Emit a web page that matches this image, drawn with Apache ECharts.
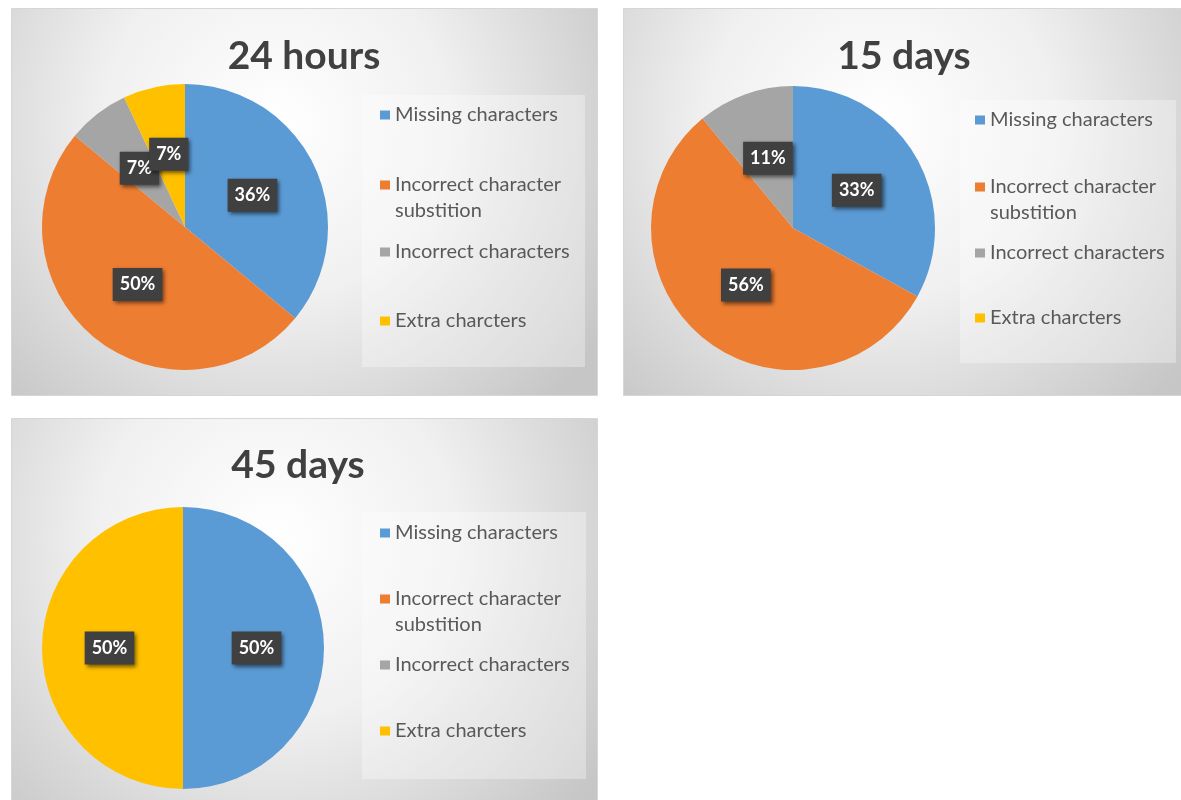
<!DOCTYPE html>
<html>
<head>
<meta charset="utf-8">
<style>
  html, body { margin: 0; padding: 0; background: #ffffff; }
  #chart { width: 1181px; height: 800px; }
</style>
<script src="https://cdn.jsdelivr.net/npm/echarts@6/dist/echarts.min.js"></script>
</head>
<body>
<div id="chart"></div>
<script>
// ---- data ----
const categories = ['Missing characters', 'Incorrect character substition', 'Incorrect characters', 'Extra charcters'];
const chartTitles = ['24 hours', '15 days', '45 days'];
const values24h = [36, 50, 7, 7];
const values15d = [33, 56, 11, 0];
const values45d = [50, 0, 0, 50];
const seriesValues = [values24h, values15d, values45d];
const colors = ['#5B9BD5', '#ED7D31', '#A5A5A5', '#FFC000'];

// ---- layout (positions / sizes) ----
const panels = [
  { x: 11, y: 8, w: 586, h: 387, cx: 185, cy: 227, r: 143, tx: 304, ty: 37,
    box: [362, 95, 223, 272], iconX: 380, rows: [115, 185, 252, 321] },
  { x: 623, y: 8, w: 570, h: 387, cx: 793, cy: 228, r: 142, tx: 904, ty: 37,
    box: [960, 100, 216, 263], iconX: 975, rows: [120, 187, 253, 318] },
  { x: 11, y: 418, w: 586, h: 400, cx: 183, cy: 648, r: 141, tx: 298, ty: 446,
    box: [362, 512, 224, 267], iconX: 380, rows: [533, 599, 665, 731] }
];

const FONT = 'Lato, "Open Sans", sans-serif';
const LH = 26;

const graphic = [];
const title = [];
const legend = [];
const series = [];

panels.forEach((p, i) => {
  graphic.push({
    type: 'rect', z: 0,
    shape: { x: p.x + 0.5, y: p.y + 0.5, width: p.w, height: p.h },
    style: {
      fill: new echarts.graphic.RadialGradient(0.45, 0.3, 1.0, [
        { offset: 0, color: '#ffffff' },
        { offset: 0.45, color: '#f0f0f0' },
        { offset: 1, color: '#c6c6c6' }
      ]),
      stroke: '#d6d6d6', lineWidth: 1
    }
  });
  graphic.push({
    type: 'rect', z: 1,
    shape: { x: p.box[0], y: p.box[1], width: p.box[2], height: p.box[3] },
    style: { fill: 'rgba(255,255,255,0.32)' }
  });
  title.push({
    text: chartTitles[i],
    left: p.tx, top: p.ty, textAlign: 'center', padding: 0,
    textStyle: { fontFamily: FONT, fontSize: 39, fontWeight: 'bold', color: '#404040', lineHeight: 39 }
  });
  categories.forEach((name, k) => {
    const twoLine = name === 'Incorrect character substition';
    legend.push({
      data: [name],
      left: p.iconX,
      top: p.rows[k] - (twoLine ? LH * 1.5 : LH / 2),
      padding: 0,
      orient: 'vertical',
      icon: 'rect',
      itemWidth: 10, itemHeight: 9,
      selectedMode: false,
      formatter: n => n === 'Incorrect character substition' ? '\nIncorrect character\nsubstition' : n,
      textStyle: {
        fontFamily: FONT, fontSize: 20, color: '#595959', lineHeight: LH
      }
    });
  });
  series.push({
    type: 'pie',
    name: chartTitles[i],
    center: [p.cx, p.cy],
    radius: p.r,
    startAngle: 90,
    clockwise: true,
    silent: true,
    animation: false,
    avoidLabelOverlap: false,
    labelLayout: { hideOverlap: false },
    z: 3,
    label: {
      show: true, position: 'inside', formatter: '{c}%',
      fontFamily: FONT, fontSize: 18, fontWeight: 'bold', color: '#ffffff',
      backgroundColor: '#404040', padding: [8, 7, 7, 7],
      shadowColor: 'rgba(0,0,0,0.55)', shadowBlur: 4, shadowOffsetX: 2, shadowOffsetY: 2
    },
    labelLine: { show: false },
    data: seriesValues[i].map((v, k) => v === 0
      ? { name: categories[k], value: v, label: { show: false }, itemStyle: { color: colors[k] } }
      : { name: categories[k], value: v, itemStyle: { color: colors[k] } })
  });
});

const chart = echarts.init(document.getElementById('chart'), null, { renderer: 'canvas' });
chart.setOption({
  backgroundColor: '#ffffff',
  animation: false,
  color: colors,
  graphic: graphic,
  title: title,
  legend: legend,
  series: series
});
</script>
</body>
</html>
